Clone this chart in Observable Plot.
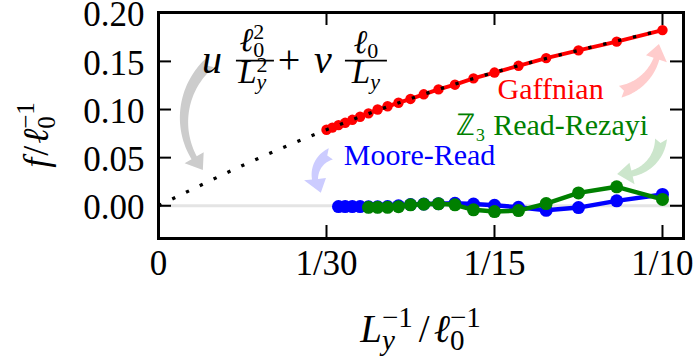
<!DOCTYPE html>
<html>
<head>
<meta charset="utf-8">
<script src="https://cdn.jsdelivr.net/npm/d3@7"></script>
<script src="https://cdn.jsdelivr.net/npm/@observablehq/plot@0.6"></script>
<style>
  body { margin: 0; background: #fff; }
  svg { display: block; }
</style>
</head>
<body>
<div id="chart"></div>
<script>
// Circumference Ly (in units of ℓ0) and free energy f (in units of ℓ0^-1)
const gaffLy = [10, 11, 12, 13, 14, 15, 16, 17, 18, 19, 20, 21, 22, 23, 24, 25, 26, 27, 28, 29, 30];
const gaffF  = [0.1825, 0.1705, 0.1615, 0.1534, 0.1454, 0.1384, 0.1324, 0.1258, 0.1209, 0.1158, 0.1110,
                0.1070, 0.1034, 0.1000, 0.0960, 0.0925, 0.0893, 0.0862, 0.0838, 0.0812, 0.0790];
const mrLy = [10, 11, 12, 13, 14, 15, 16, 17, 18, 19, 20, 21, 22, 23, 24, 25, 26, 27, 28];
const mrF  = [0.0118, 0.0051, -0.0019, -0.0047, -0.0016, 0.0005, 0.0018, 0.0025, 0.0022, 0.0018,
              0.0012, 0.0000, -0.0008, -0.0010, -0.0010, -0.0008, -0.0008, -0.0008, -0.0008];
const rrLy = [10, 11, 12, 13, 14, 15, 16, 17, 18, 19, 20, 21, 22, 23, 24];
const rrF  = [0.0066, 0.0197, 0.0134, 0.0023, -0.0050, -0.0060, -0.0042, 0.0010, 0.0020, 0.0016,
              0.0010, -0.0010, -0.0016, -0.0016, -0.0016];

// Fitted curve u ℓ0²/Ly² + v ℓ0/Ly through the Gaffnian points
const fitInvLy = [0, 1/60, 1/30, 1/20, 1/15, 1/12, 1/10];
const fitF     = [0, 0.0418, 0.0790, 0.1112, 0.1386, 0.1615, 0.1825];

// Axis ticks
const xTickValues = [0, 1/30, 1/15, 1/10];
const xTickLabels = ["0", "1/30", "1/15", "1/10"];
const yTickValues = [0, 0.05, 0.10, 0.15, 0.20];
const yTickLabels = ["0.00", "0.05", "0.10", "0.15", "0.20"];

// Series labels (anchored in data units)
const seriesNames  = ["Gaffnian", "ℤ₃ Read-Rezayi", "Moore-Read"];
const seriesLabelX = [0.0778, 0.0781, 0.0518];
const seriesLabelF = [0.1214, 0.0839, 0.0523];
const seriesColors = ["#ff0000", "#008000", "#0000ff"];

// Curved pointer arrows (data units): formula, Moore-Read, Read-Rezayi, Gaffnian
// bend > 0 bulges to the right of the tail→head direction
const arrowX1 = [0.0103, 0.0343, 0.0998, 0.0917];
const arrowF1 = [0.1480, 0.0534, 0.0689, 0.1180];
const arrowX2 = [0.0089, 0.0323, 0.0911, 0.0994];
const arrowF2 = [0.0367, 0.0130, 0.0325, 0.1676];
const arrowBend = [45, 55, -48, 38];
const arrowColor = ["#cccccc", "#ccccff", "#cce6cc", "#ffcccc"];

// Formula anchor (baseline, left of "u")
const formulaX = 0.0107, formulaF = 0.1375;

const W = 700, H = 362;
const mL = 158, mR = 17, mT = 12, mB = 124;
const tickLen = 13;
const serif = "Liberation Serif";
const NS = "http://www.w3.org/2000/svg";

const rows = (ly, f) => ly.map((L, i) => ({x: 1 / L, f: f[i]}));
const gaff = rows(gaffLy, gaffF);
const mr = rows(mrLy, mrF);
const rr = rows(rrLy, rrF);
const fit = fitInvLy.map((x, i) => ({x, f: fitF[i]}));
const labels = seriesNames.map((t, i) => ({t, x: seriesLabelX[i], f: seriesLabelF[i], c: seriesColors[i]}));
const arrows = arrowX1.map((x1, i) => ({x1, y1: arrowF1[i], x2: arrowX2[i], y2: arrowF2[i], bend: arrowBend[i], c: arrowColor[i]}));

function el(name, attrs = {}) {
  const e = document.createElementNS(NS, name);
  for (const [k, v] of Object.entries(attrs)) e.setAttribute(k, v);
  return e;
}

// Text with sub/superscripts; shift is the baseline offset in px (positive = up)
function mathText(parts, attrs = {}) {
  const t = el("text", {"font-family": serif, fill: "#000", ...attrs});
  let prev = 0;
  for (const p of parts) {
    const s = p.shift || 0;
    const ts = el("tspan", {"font-size": p.size, dy: prev - s});
    if (p.dx) ts.setAttribute("dx", p.dx);
    if (p.italic) ts.setAttribute("font-style", "italic");
    ts.textContent = p.t;
    t.appendChild(ts);
    prev = s;
  }
  return t;
}

// Tapered curved arrows with a filled head
function fancyArrows(index, scales) {
  const g = el("g");
  const w0 = 12, w1 = 6, headW = 22, headL = 15, notch = 4, N = 48;
  for (const a of arrows) {
    const A = [scales.x(a.x1), scales.y(a.y1)], B = [scales.x(a.x2), scales.y(a.y2)];
    const th = Math.abs(a.bend) * Math.PI / 180, sgn = Math.sign(a.bend);
    const dx = B[0] - A[0], dy = B[1] - A[1], c = Math.hypot(dx, dy);
    const n = [-dy / c, dx / c];
    const R = c / (2 * Math.sin(th)), h = R * Math.cos(th);
    const M = [(A[0] + B[0]) / 2, (A[1] + B[1]) / 2];
    const O = [M[0] - sgn * n[0] * h, M[1] - sgn * n[1] * h];
    const aA = Math.atan2(A[1] - O[1], A[0] - O[0]);
    let d = Math.atan2(B[1] - O[1], B[0] - O[0]) - aA;
    while (d > Math.PI) d -= 2 * Math.PI;
    while (d < -Math.PI) d += 2 * Math.PI;
    const L = R * Math.abs(d);
    const t1 = (L - headL) / L;
    const P = t => { const al = aA + d * t; return [O[0] + R * Math.cos(al), O[1] + R * Math.sin(al), Math.cos(al), Math.sin(al)]; };
    const left = [], right = [];
    for (let k = 0; k <= N; k++) {
      const t = t1 * k / N, p = P(t), w = (w0 + (w1 - w0) * (t / t1)) / 2;
      left.push([p[0] + p[2] * w, p[1] + p[3] * w]);
      right.push([p[0] - p[2] * w, p[1] - p[3] * w]);
    }
    const hb = P(t1);
    const head = [[hb[0] + hb[2] * headW / 2, hb[1] + hb[3] * headW / 2], B, [hb[0] - hb[2] * headW / 2, hb[1] - hb[3] * headW / 2]];
    const tailIn = P(notch / L);
    const pts = [...left, ...head, ...right.reverse(), [tailIn[0], tailIn[1]]];
    g.appendChild(el("path", {d: "M" + pts.map(p => p[0].toFixed(2) + "," + p[1].toFixed(2)).join("L") + "Z", fill: a.c, stroke: "none"}));
  }
  return g;
}

// u ℓ0²/Ly² + v ℓ0/Ly
function formula(index, scales) {
  const g = el("g", {transform: `translate(${scales.x(formulaX)},${scales.y(formulaF)})`});
  const big = 40, mid = 33, sm = 22;
  g.appendChild(mathText([{t: "u", italic: true, size: big}], {x: 0, y: 0}));
  // first fraction
  g.appendChild(el("line", {x1: 24, x2: 62, y1: -12.3, y2: -12.3, stroke: "#000", "stroke-width": 1.6}));
  g.appendChild(mathText([
    {t: "ℓ", italic: true, size: mid},
    {t: "0", size: sm, shift: -6.5},
    {t: "2", size: sm, shift: 11.5, dx: -11}
  ], {x: 40, y: -22, "text-anchor": "middle"}));
  g.appendChild(mathText([
    {t: "L", italic: true, size: mid},
    {t: "y", italic: true, size: sm, shift: -6},
    {t: "2", size: sm, shift: 11, dx: -9.8}
  ], {x: 41, y: 10.5, "text-anchor": "middle"}));
  // plus and v
  g.appendChild(mathText([{t: "+", size: big}], {x: 77, y: 0}));
  g.appendChild(mathText([{t: "v", italic: true, size: big}], {x: 111, y: 0}));
  // second fraction
  g.appendChild(el("line", {x1: 133, x2: 175, y1: -12.3, y2: -12.3, stroke: "#000", "stroke-width": 1.6}));
  g.appendChild(mathText([
    {t: "ℓ", italic: true, size: mid},
    {t: "0", size: sm, shift: -5}
  ], {x: 154, y: -19.5, "text-anchor": "middle"}));
  g.appendChild(mathText([
    {t: "L", italic: true, size: mid},
    {t: "y", italic: true, size: sm, shift: -6}
  ], {x: 154, y: 10.5, "text-anchor": "middle"}));
  return g;
}

// Axis titles
function axisTitles(index, scales, values, dims) {
  const g = el("g");
  const big = 39, sm = 29;
  g.appendChild(mathText([
    {t: "L", italic: true, size: big},
    {t: "y", italic: true, size: sm, shift: -8},
    {t: "−1", size: sm, shift: 15, dx: -12.9},
    {t: "/", size: big, dx: 6},
    {t: "ℓ", italic: true, size: big, dx: 4},
    {t: "0", size: sm, shift: -8},
    {t: "−1", size: sm, shift: 15, dx: -14.5}
  ], {"text-anchor": "middle", x: 0, y: 0,
      transform: `translate(${(dims.marginLeft + dims.width - dims.marginRight) / 2},${dims.height - 20})`}));
  g.appendChild(mathText([
    {t: "f", italic: true, size: 36},
    {t: "/", size: 36, dx: 2},
    {t: "ℓ", italic: true, size: 36, dx: 2},
    {t: "0", size: 25, shift: -7},
    {t: "−1", size: 25, shift: 14, dx: -12.5}
  ], {"text-anchor": "middle", x: 0, y: 0,
      transform: `translate(48,${(dims.marginTop + dims.height - dims.marginBottom) / 2 + 10}) rotate(-90)`}));
  return g;
}

const plotH = H - mT - mB, plotW = W - mL - mR;

const chart = Plot.plot({
  width: W, height: H,
  marginLeft: mL, marginRight: mR, marginTop: mT, marginBottom: mB,
  x: {domain: [0, 0.10417], axis: null},
  y: {domain: [-0.034, 0.2008], axis: null},
  style: {fontFamily: serif, background: "#fff", overflow: "visible"},
  marks: [
    Plot.ruleY([0], {stroke: "#e4e4e4", strokeWidth: 3}),
    fancyArrows,
    Plot.line(gaff, {x: "x", y: "f", stroke: "#ff0000", strokeWidth: 4}),
    Plot.dot(gaff, {x: "x", y: "f", r: 5.2, fill: "#ff0000", stroke: "none"}),
    Plot.line(fit, {x: "x", y: "f", curve: "natural", stroke: "#000", strokeWidth: 3.3,
      strokeDasharray: "3.3,12", strokeLinecap: "butt"}),
    Plot.line(mr, {x: "x", y: "f", stroke: "#0000ff", strokeWidth: 4.5}),
    Plot.dot(mr, {x: "x", y: "f", r: 6.5, fill: "#0000ff", stroke: "none"}),
    Plot.line(rr, {x: "x", y: "f", stroke: "#008000", strokeWidth: 4.5}),
    Plot.dot(rr, {x: "x", y: "f", r: 6.5, fill: "#008000", stroke: "none"}),
    Plot.text(labels, {x: "x", y: "f", text: "t", fontSize: 30, lineAnchor: "middle", fill: "c"}),
    formula,
    // inward ticks on all four sides
    Plot.ruleX(xTickValues.slice(1), {stroke: "#000", strokeWidth: 2, insetBottom: plotH - tickLen}),
    Plot.ruleX(xTickValues.slice(1), {stroke: "#000", strokeWidth: 2, insetTop: plotH - tickLen}),
    Plot.ruleY(yTickValues.slice(0, -1), {stroke: "#000", strokeWidth: 2, insetRight: plotW - tickLen}),
    Plot.ruleY(yTickValues.slice(0, -1), {stroke: "#000", strokeWidth: 2, insetLeft: plotW - tickLen}),
    Plot.frame({stroke: "#000", strokeWidth: 3}),
    Plot.text(xTickValues, {x: d => d, text: (d, i) => xTickLabels[i], frameAnchor: "bottom", dy: 25,
      fontSize: 35, lineAnchor: "middle", fill: "#000"}),
    Plot.text(yTickValues, {y: d => d, text: (d, i) => yTickLabels[i], frameAnchor: "left", dx: -14, dy: 2,
      textAnchor: "end", fontSize: 35, lineAnchor: "middle", fill: "#000"}),
    axisTitles
  ]
});
document.getElementById("chart").appendChild(chart);
</script>
</body>
</html>
